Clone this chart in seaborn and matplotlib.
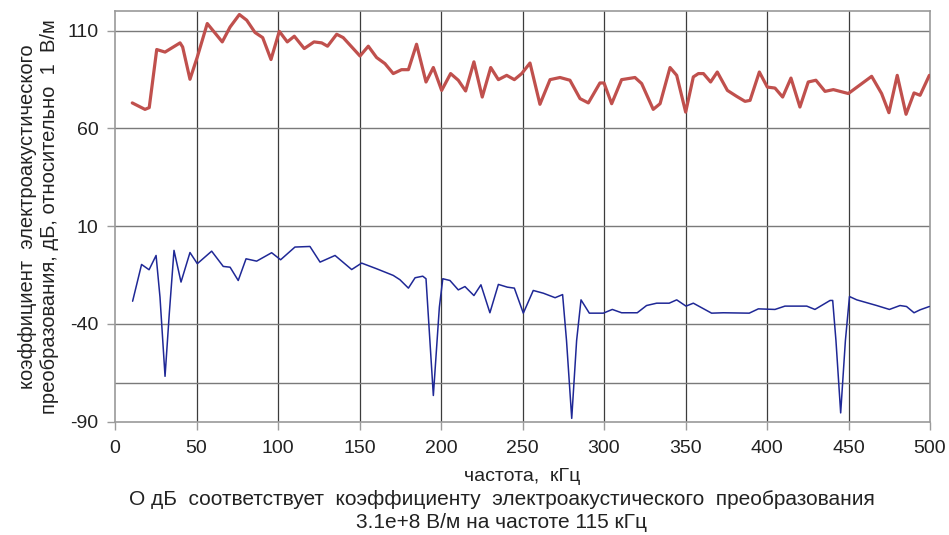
import numpy as np
import pandas as pd
import matplotlib
matplotlib.use("Agg")
import matplotlib.pyplot as plt
import seaborn as sns

# Frequency response, upper trace (kHz, dB)
freq_upper = [10.6, 18.4, 21.0, 25.6, 30.7, 39.9, 41.5, 46.0, 50.5, 56.6, 65.8, 70.6, 76.3,
              80.8, 85.9, 90.6, 95.7, 100.8, 105.7, 110.0, 116.1, 122.1, 126.8, 130.4, 136.0,
              140.0, 150.3, 155.4, 160.5, 165.6, 170.7, 175.8, 180.0, 185.0, 190.8, 195.3,
              200.4, 205.9, 210.6, 215.1, 220.2, 225.3, 230.5, 235.2, 240.3, 245.0, 249.5,
              254.6, 260.7, 266.9, 273.0, 279.1, 285.3, 290.4, 297.5, 300.0, 304.7, 310.8,
              319.0, 323.1, 330.2, 334.4, 340.5, 344.6, 350.1, 354.8, 357.9, 361.0, 365.4,
              369.5, 375.7, 381.3, 386.5, 389.6, 395.3, 400.2, 404.9, 409.6, 414.7, 420.2,
              425.3, 430.0, 435.6, 440.7, 449.9, 464.2, 470.3, 474.8, 479.9, 485.3, 490.2,
              493.9, 499.6]
level_upper = [73.0, 69.7, 70.6, 100.3, 99.0, 103.7, 101.6, 85.1, 96.5, 113.6, 104.2, 111.8,
               118.2, 115.3, 109.0, 106.4, 95.2, 109.6, 104.2, 107.1, 100.8, 104.2, 103.7,
               102.0, 108.1, 106.4, 97.0, 102.0, 96.2, 93.1, 88.0, 90.0, 90.0, 103.0, 83.7,
               91.1, 79.4, 88.0, 84.6, 79.1, 94.0, 76.0, 91.1, 84.9, 87.1, 84.9, 88.0, 93.4,
               72.3, 84.9, 86.0, 84.6, 75.2, 73.0, 83.2, 83.2, 72.6, 84.9, 86.0, 82.9, 69.7,
               72.6, 91.1, 87.1, 68.3, 86.3, 88.0, 88.0, 83.7, 88.8, 79.4, 76.4, 73.8, 74.3,
               88.8, 81.1, 80.6, 76.0, 85.7, 70.9, 83.7, 84.6, 78.9, 79.8, 77.8, 86.6, 77.8,
               68.0, 87.1, 67.2, 78.1, 76.9, 87.1]

# Frequency response, lower trace (kHz, dB)
freq_lower = [10.8, 16.3, 20.9, 25.2, 27.6, 30.7, 33.3, 36.2, 40.5, 46.0, 50.5, 59.3, 66.4,
              70.6, 75.6, 80.4, 86.9, 96.1, 101.6, 110.4, 119.6, 125.8, 135.0, 145.2, 151.3,
              160.5, 170.7, 174.8, 180.0, 184.1, 188.8, 190.8, 195.3, 199.0, 201.1, 205.5,
              210.6, 214.7, 220.2, 224.5, 230.0, 235.2, 240.7, 245.0, 250.5, 256.6, 262.8,
              270.0, 274.6, 277.0, 280.2, 283.2, 285.9, 291.0, 299.6, 305.1, 310.8, 320.4,
              326.1, 332.3, 340.0, 344.6, 350.3, 354.8, 366.0, 373.2, 389.1, 394.7, 404.9,
              411.0, 424.4, 429.4, 438.7, 440.3, 442.3, 445.2, 448.1, 450.6, 455.1, 467.3,
              475.1, 481.6, 485.6, 490.2, 493.9, 499.6]
level_lower = [-28.4, -9.6, -12.3, -5.0, -26.3, -66.8, -34.8, -2.4, -18.6, -3.5, -9.2, -2.8,
               -10.6, -11.0, -17.8, -6.7, -7.9, -3.6, -7.2, -0.7, -0.4, -8.4, -5.0, -12.2,
               -8.9, -11.8, -15.2, -17.4, -21.7, -16.4, -15.6, -16.9, -76.6, -31.4, -16.9,
               -17.8, -22.6, -20.9, -25.5, -20.0, -34.3, -19.8, -21.2, -21.7, -34.5, -22.9,
               -24.3, -26.6, -25.0, -48.5, -88.3, -48.5, -27.7, -34.5, -34.5, -32.6, -34.3,
               -34.3, -30.6, -29.4, -29.4, -27.7, -30.9, -29.4, -34.5, -34.3, -34.5, -32.3,
               -32.6, -30.9, -30.9, -32.6, -28.0, -28.0, -48.5, -85.5, -48.5, -26.0, -27.7,
               -30.6, -32.6, -30.6, -31.1, -34.3, -32.8, -31.1]

x_ticks = [0, 50, 100, 150, 200, 250, 300, 350, 400, 450, 500]
y_ticks = [-90, -40, 10, 60, 110]
extra_hline = -70

x_label = "частота,  кГц"
y_label = "коэффициент  электроакустического\nпреобразования, дБ, относительно  1  В/м"
caption = ("О дБ  соответствует  коэффициенту  электроакустического  преобразования\n"
           "3.1e+8 В/м на частоте 115 кГц")

sns.set_theme(style="white")
plt.rcParams["font.family"] = ["Liberation Sans", "DejaVu Sans"]

fig = plt.figure(figsize=(9.49, 5.35), dpi=100)
ax = fig.add_axes([115 / 949, 1 - 421.7 / 535, 815 / 949, (421.7 - 11) / 535])

upper = pd.DataFrame({"f": freq_upper, "db": level_upper})
lower = pd.DataFrame({"f": freq_lower, "db": level_lower})

sns.lineplot(data=upper, x="f", y="db", ax=ax, color="#C0504D", linewidth=2.3,
             solid_joinstyle="round", solid_capstyle="round", zorder=3)
sns.lineplot(data=lower, x="f", y="db", ax=ax, color="#1F2896", linewidth=1.1,
             solid_joinstyle="round", zorder=3)

ax.set_xlim(0, 500)
ax.set_ylim(-90, 120)
ax.set_xticks(x_ticks)
ax.set_yticks(y_ticks)
ax.set_xticklabels([str(v) for v in x_ticks])
ax.set_yticklabels([str(v) for v in y_ticks])

# grid: vertical lines dark, horizontal lines grey
for v in x_ticks[1:-1]:
    ax.axvline(v, color="#3c3c3c", linewidth=0.9, zorder=1)
for v in y_ticks[1:] + [extra_hline]:
    ax.axhline(v, color="#7a7a7a", linewidth=1.0, zorder=1)

for side in ["left", "bottom", "top", "right"]:
    ax.spines[side].set_visible(True)
    ax.spines[side].set_color("#9a9a9a")
    ax.spines[side].set_linewidth(1.2)

ax.tick_params(axis="both", which="major", direction="out", length=6, width=1,
               color="#9a9a9a", labelsize=14, labelcolor="#222222", pad=6, left=True, bottom=True)
ax.tick_params(axis="x", pad=7)

ax.set_xlabel(x_label, fontsize=14, color="#222222", labelpad=8)
ax.set_ylabel(y_label, fontsize=14.5, color="#222222", labelpad=6, linespacing=1.2)

fig.text(502 / 949, 1 - 511 / 535, caption, ha="center", va="center", fontsize=15,
         color="#222222", linespacing=1.3)

fig.savefig("out.png", dpi=100, facecolor="white")
